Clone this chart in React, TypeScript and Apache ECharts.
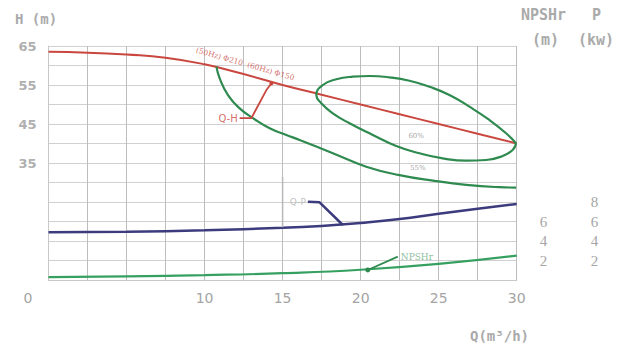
import React, { useEffect, useRef } from "react";
import * as echarts from "echarts";

// Q-H curve
const qhQ = [0, 2.5, 5, 7.5, 10, 12.5, 15, 17.5, 20, 22.5, 25, 27.5, 30];
const qhH = [63.5, 63.3, 62.8, 62.0, 60.3, 57.8, 55.0, 52.5, 50.0, 47.5, 45.0, 42.5, 40.0];

// 60% efficiency loop (starts and ends at its right tip)
const eff60Q = [29.96, 29.74, 29.1, 28.04, 26.76, 25.26, 23.77, 22.28, 20.78, 19.29, 18.22, 17.48, 17.16, 17.58, 18.44, 19.5, 20.57, 21.85, 23.13, 24.41, 25.69, 26.97, 28.25, 29.32, 29.96];
const eff60H = [40.05, 38.33, 36.79, 35.77, 35.59, 36.2, 37.49, 39.36, 42.18, 45.18, 47.74, 50.31, 52.44, 55.0, 56.46, 57.13, 57.31, 56.97, 56.1, 54.56, 52.44, 49.44, 46.03, 42.62, 40.05];

// 55% efficiency curve
const eff55Q = [10.76, 10.97, 11.5, 12.25, 13.1, 14.17, 15.24, 16.09, 18.22, 20.36, 22.49, 24.62, 26.76, 28.89, 29.96];
const eff55H = [59.7, 56.7, 52.4, 49.0, 46.5, 43.9, 42.2, 40.9, 37.5, 34.05, 31.9, 30.5, 29.4, 28.8, 28.7];

// Power curve (kW)
const pQ = [0, 5, 10, 15, 17.5, 20, 22.5, 25, 27.5, 30];
const pKw = [4.9, 4.95, 5.1, 5.35, 5.55, 5.85, 6.25, 6.8, 7.3, 7.8];

// NPSHr curve (m)
const nQ = [0, 5, 10, 15, 20, 25, 30];
const nM = [0.3, 0.38, 0.5, 0.7, 1.05, 1.65, 2.5];

// Annotation leaders
const qhLeadQ = [12.25, 13.0, 13.96, 14.28];
const qhLeadH = [46.5, 46.5, 53.7, 55.4];
const pLeadQ = [16.62, 17.37, 18.86];
const pLeadP = [8.03, 7.97, 5.64];
const pMarkQ = [15, 15];
const pMarkP = [10.6, 5.4];
const nLeadQ = [20.46, 22.38];
const nLeadM = [1.03, 2.39];

// Ticks
const xTickLabels = [0, 10, 15, 20, 25, 30];
const hTickLabels = [35, 45, 55, 65];
const nTickLabels = [2, 4, 6];
const pTickLabels = [2, 4, 6, 8];

const RED = "#c9473f";
const GREEN = "#2f8a4f";
const GREEN2 = "#35a060";
const PURPLE = "#3b3b7d";
const GRID = "#c8c8c8";
const LABEL = "#a4a4a4";

const zip = (a: number[], b: number[]) => a.map((v, i) => [v, b[i]]);

export default function App() {
  const ref = useRef<HTMLDivElement>(null);
  useEffect(() => {
    if (!ref.current) return;
    const chart = echarts.init(ref.current, null, { renderer: "svg" });
    const textLabel = (
      q: number,
      v: number,
      text: string,
      yAxisIndex: number,
      label: any
    ) => ({
      type: "scatter",
      yAxisIndex,
      symbolSize: 0,
      silent: true,
      data: [{ value: [q, v], label: { show: true, formatter: text, ...label } }],
    });
    const qhLead = zip(qhLeadQ, qhLeadH).map((p, i) =>
      i === qhLeadQ.length - 1 ? { value: p, symbol: "circle", symbolSize: 4 } : { value: p }
    );
    const nLead = zip(nLeadQ, nLeadM).map((p, i) =>
      i === 0 ? { value: p, symbol: "circle", symbolSize: 5 } : { value: p }
    );
    const rightRich = {
      r: { color: "#a6a6a6", fontFamily: "Liberation Serif", fontSize: 15 },
    };
    chart.setOption({
      animation: false,
      backgroundColor: "#ffffff",
      grid: { left: 48.5, right: 114.3, top: 46, bottom: 72 },
      xAxis: {
        type: "value",
        min: 0,
        max: 30,
        interval: 2.5,
        axisLine: { show: true, lineStyle: { color: GRID } },
        axisTick: { show: false },
        splitLine: { show: true, lineStyle: { color: "#bdbdbd", width: 1 } },
        axisLabel: {
          margin: 11,
          color: LABEL,
          fontFamily: "DejaVu Sans",
          fontSize: 14,
          formatter: (v: number) =>
            v === 0 ? "{z|0}" : xTickLabels.includes(v) ? String(v) : "",
          rich: {
            z: { padding: [0, 41, 0, 0], color: LABEL, fontFamily: "DejaVu Sans", fontSize: 14 },
          },
        },
      },
      yAxis: [
        {
          type: "value",
          min: 5,
          max: 65,
          interval: 5,
          axisLine: { show: true, lineStyle: { color: GRID } },
          axisTick: { show: false },
          splitLine: { show: true, lineStyle: { color: "#d0d0d0", width: 1 } },
          axisLabel: {
            margin: 12,
            color: "#b0b0b0",
            fontFamily: "DejaVu Sans",
            fontWeight: "bold",
            fontSize: 13,
            formatter: (v: number) => (hTickLabels.includes(v) ? String(v) : ""),
          },
        },
        {
          type: "value",
          position: "right",
          min: 0,
          max: 24,
          interval: 2,
          axisLine: { show: false },
          axisTick: { show: false },
          splitLine: { show: false },
          axisLabel: {
            margin: 23,
            color: "#a6a6a6",
            rich: rightRich,
            formatter: (v: number) => (nTickLabels.includes(v) ? `{r|${v}}` : ""),
          },
        },
        {
          type: "value",
          position: "right",
          offset: 66,
          min: 0,
          max: 24,
          interval: 2,
          axisLine: { show: false },
          axisTick: { show: false },
          splitLine: { show: false },
          axisLabel: {
            margin: 8,
            color: "#a6a6a6",
            rich: rightRich,
            formatter: (v: number) => (pTickLabels.includes(v) ? `{r|${v}}` : ""),
          },
        },
      ],
      graphic: [
        { type: "text", left: 15, top: 12, style: { text: "H (m)", fill: "#aaaaaa", font: "bold 14px 'DejaVu Sans Mono'" } },
        { type: "text", left: 521, top: 7, style: { text: "NPSHr", fill: "#aaaaaa", font: "bold 15px 'DejaVu Sans Mono'" } },
        { type: "text", left: 592, top: 7, style: { text: "P", fill: "#aaaaaa", font: "bold 15px 'DejaVu Sans Mono'" } },
        { type: "text", left: 532, top: 32, style: { text: "(m)", fill: "#aaaaaa", font: "bold 15px 'DejaVu Sans Mono'" } },
        { type: "text", left: 578, top: 32, style: { text: "(kw)", fill: "#aaaaaa", font: "bold 15px 'DejaVu Sans Mono'" } },
        { type: "text", left: 470, top: 329, style: { text: "Q(m³/h)", fill: "#aaaaaa", font: "bold 14px 'DejaVu Sans Mono'" } },
      ],
      series: [
        { type: "line", name: "Q-H", data: zip(qhQ, qhH), smooth: true, symbol: "none", lineStyle: { color: RED, width: 2 } },
        { type: "line", name: "60%", data: zip(eff60Q, eff60H), smooth: 0.5, symbol: "none", lineStyle: { color: GREEN, width: 2.2 } },
        { type: "line", name: "55%", data: zip(eff55Q, eff55H), smooth: true, symbol: "none", lineStyle: { color: GREEN, width: 2.2 } },
        { type: "line", name: "P", yAxisIndex: 2, data: zip(pQ, pKw), smooth: true, symbol: "none", lineStyle: { color: PURPLE, width: 2.5 } },
        { type: "line", name: "NPSHr", yAxisIndex: 1, data: zip(nQ, nM), smooth: true, symbol: "none", lineStyle: { color: GREEN2, width: 2.2 } },
        { type: "line", data: qhLead, symbol: "none", itemStyle: { color: RED }, lineStyle: { color: RED, width: 1.8 } },
        { type: "line", yAxisIndex: 2, data: zip(pLeadQ, pLeadP), symbol: "none", lineStyle: { color: PURPLE, width: 2.5 } },
        { type: "line", yAxisIndex: 2, data: zip(pMarkQ, pMarkP), symbol: "none", lineStyle: { color: "#b8b8b8", width: 1.5 } },
        { type: "line", yAxisIndex: 1, data: nLead, symbol: "none", itemStyle: { color: GREEN }, lineStyle: { color: GREEN, width: 1.8 } },
        textLabel(qhLeadQ[0], qhLeadH[0], "Q-H", 0, { position: "left", distance: 2, color: RED, fontSize: 10, fontFamily: "DejaVu Sans" }),
        textLabel(12.6, 60.4, "(50Hz) Φ210  (60Hz) Φ150", 0, { position: "inside", rotate: -16, color: RED, fontSize: 7.5, fontFamily: "DejaVu Serif" }),
        textLabel(23.56, 41.9, "60%", 0, { position: "inside", color: "#8a8a8a", fontSize: 7, fontFamily: "DejaVu Serif" }),
        textLabel(23.66, 33.6, "55%", 0, { position: "inside", color: "#8a8a8a", fontSize: 7, fontFamily: "DejaVu Serif" }),
        textLabel(pLeadQ[0], pLeadP[0], "Q-P", 2, { position: "left", distance: 2, color: "#b0b0b0", fontSize: 9, fontFamily: "DejaVu Sans" }),
        textLabel(nLeadQ[1], nLeadM[1], "NPSHr", 1, { position: "right", distance: 3, color: "#6fae86", fontSize: 9, fontFamily: "DejaVu Serif" }),
      ],
    });
    return () => chart.dispose();
  }, []);
  return (
    <div
      ref={ref}
      style={{ position: "absolute", left: 0, top: 0, width: 631, height: 352 }}
    />
  );
}
